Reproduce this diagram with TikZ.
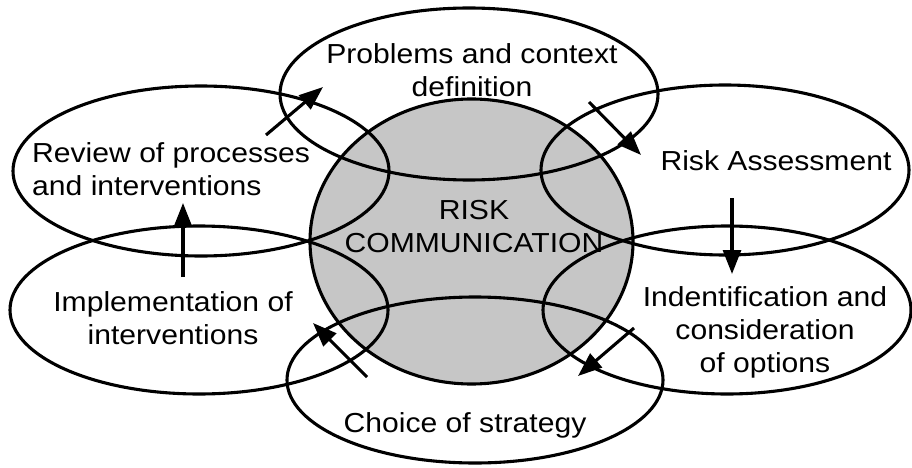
\documentclass[tikz,border=0pt]{standalone}
\usepackage{fontspec}
\setmainfont[FakeStretch=1.095]{Liberation Sans}
\usetikzlibrary{shapes.geometric,arrows.meta}
\definecolor{riskgray}{RGB}{198,198,198}
\begin{document}
\begin{tikzpicture}[x=1pt,y=-1pt,
  oval/.style={draw, ellipse, line width=3.1pt, inner sep=0pt},
  lbl/.style={inner sep=0pt, align=center, font=\fontsize{27.5}{33}\selectfont},
  flow/.style={line width=3.1pt, -{Triangle[length=24pt,width=18pt]}}]
\useasboundingbox (0,0) rectangle (912,468);
% central circle
\node[oval, fill=riskgray, minimum width=323pt, minimum height=285pt] (rc) at (471.5,241.5) {};
% ellipses
\node[oval, minimum width=378pt, minimum height=172pt] (prob) at (469,94) {};
\node[oval, minimum width=368pt, minimum height=170pt] (risk) at (725,170) {};
\node[oval, minimum width=376pt, minimum height=170pt] (rev) at (201,171) {};
\node[oval, minimum width=378pt, minimum height=168pt] (impl) at (199,310) {};
\node[oval, minimum width=368pt, minimum height=168pt] (ident) at (727,310) {};
\node[oval, minimum width=376pt, minimum height=166pt] (choice) at (475,380) {};
% texts
\node[lbl] (tprob) at (472,70) {Problems and context\\definition};
\node[lbl] (trisk) at (776,161) {Risk Assessment};
\node[lbl, align=left, anchor=west] (trev) at (32,169) {Review of processes\\and interventions};
\node[lbl] (timpl) at (173,318) {Implementation of\\interventions};
\node[lbl] (tident) at (765,332) {Indentification and\\consideration\\of options};
\node[lbl] (tchoice) at (465,425) {Choice of strategy};
\node[lbl] (trc) at (474,227) {RISK\\COMMUNICATION};
% arrow end points
\coordinate (a1s) at (266,135); \coordinate (a1e) at (323,87);
\coordinate (a2s) at (589,102); \coordinate (a2e) at (641,155);
\coordinate (a3s) at (732,198); \coordinate (a3e) at (732,274);
\coordinate (a4s) at (634,328); \coordinate (a4e) at (578,376);
\coordinate (a5s) at (367,377); \coordinate (a5e) at (313,323);
\coordinate (a6s) at (183,277); \coordinate (a6e) at (183,203);
\draw[flow] (a1s) -- (a1e);
\draw[flow] (a2s) -- (a2e);
\draw[flow] (a3s) -- (a3e);
\draw[flow] (a4s) -- (a4e);
\draw[flow] (a5s) -- (a5e);
\draw[flow] (a6s) -- (a6e);
\end{tikzpicture}
\end{document}
